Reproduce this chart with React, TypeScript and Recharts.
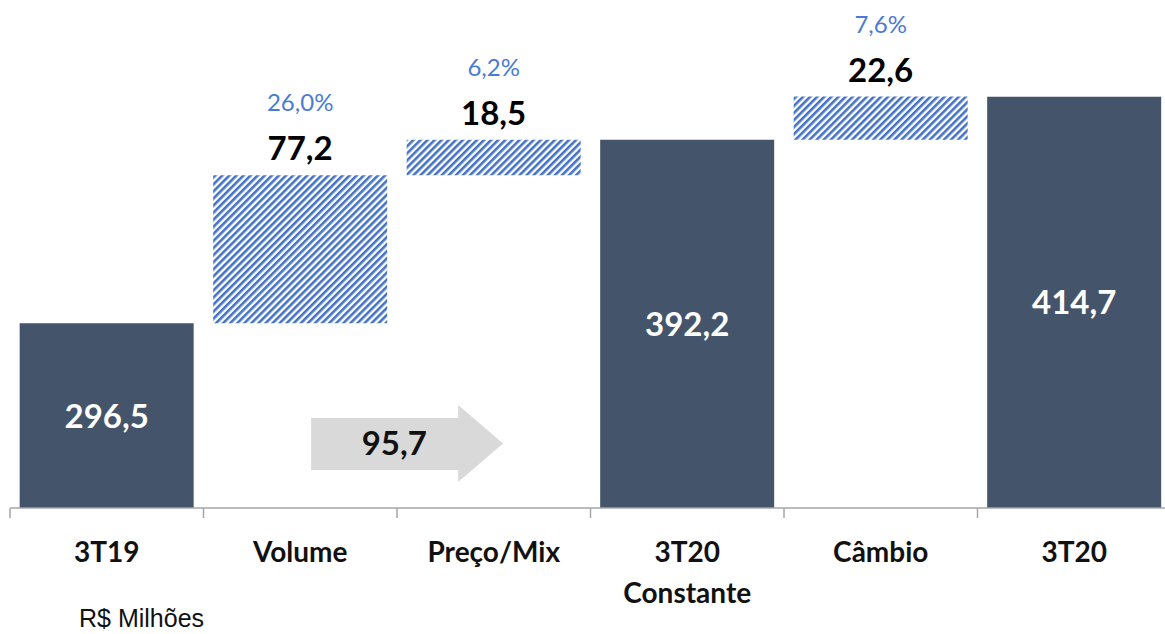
import { BarChart, Bar, XAxis, YAxis, Cell, LabelList, ReferenceArea } from "recharts";

// waterfall: 3T19 -> 3T20 (R$ Milhões)
const categories = ["3T19", "Volume", "Preço/Mix", "3T20 Constante", "Câmbio", "3T20"];
const tickLines = [["3T19"], ["Volume"], ["Preço/Mix"], ["3T20", "Constante"], ["Câmbio"], ["3T20"]];
const values = [296.5, 77.2, 18.5, 392.2, 22.6, 414.7];
const isTotal = [true, false, false, true, false, true];
const shares = [null, 26.0, 6.2, null, 7.6, null];
const arrowValue = 95.7;
const arrowBand = [213.6, 253.8];
const yDomain = [200, 460];

const DARK = "#44546A";
const HATCH = "#4472C4";
const PCT = "#4A7BD4";
const AXIS = "#A6A6A6";
const ARROW = "#D9D9D9";
const FONT = "Lato, 'Open Sans', sans-serif";

const W = 1175;
const H = 634;
const M = { top: 10, right: 4, left: 10, bottom: 66 };
const BAND = (W - M.left - M.right) / categories.length;

const fmt = (v: number) => v.toFixed(1).replace(".", ",");

let running = 0;
const data = categories.map((name, i) => {
  let range: number[];
  if (isTotal[i]) {
    range = [yDomain[0], values[i]];
    running = values[i];
  } else {
    range = [running, running + values[i]];
    running += values[i];
  }
  return { name, range };
});

function CategoryTick(props: any) {
  const { x, y, payload } = props;
  const i = categories.indexOf(payload.value);
  const lines = tickLines[i] || [payload.value];
  const left = x - BAND / 2;
  return (
    <g>
      <line x1={left} y1={y} x2={left} y2={y + 10} stroke={AXIS} strokeWidth={1.5} />
      {i === categories.length - 1 && (
        <line x1={x + BAND / 2} y1={y} x2={x + BAND / 2} y2={y + 10} stroke={AXIS} strokeWidth={1.5} />
      )}
      {lines.map((l, k) => (
        <text
          key={k}
          x={x}
          y={y + 54 + k * 41}
          textAnchor="middle"
          fontFamily={FONT}
          fontWeight={700}
          fontSize={28}
          fill="#111"
        >
          {l}
        </text>
      ))}
    </g>
  );
}

function BarLabel(props: any) {
  const vb = props.viewBox || props;
  const { x, y, width, height } = vb;
  const i = props.index;
  if (i == null) return null;
  const cx = x + width / 2;
  if (isTotal[i]) {
    return (
      <text
        x={cx}
        y={y + height / 2 + 12}
        textAnchor="middle"
        fontFamily={FONT}
        fontWeight={700}
        fontSize={33}
        fill="#fff"
      >
        {fmt(values[i])}
      </text>
    );
  }
  return (
    <g>
      <text x={cx} y={y - 15} textAnchor="middle" fontFamily={FONT} fontWeight={700} fontSize={33} fill="#000">
        {fmt(values[i])}
      </text>
      <text x={cx} y={y - 64} textAnchor="middle" fontFamily={FONT} fontSize={24} fill={PCT}>
        {fmt(shares[i] as number) + "%"}
      </text>
    </g>
  );
}

function ArrowShape(props: any) {
  const { x, y, width, height } = props;
  if (x == null) return null;
  const x0 = x + width * 0.278;
  const xh = x + width * 0.658;
  const xt = x + width * 0.774;
  const bt = y + height * 0.169;
  const bb = y + height * (1 - 0.156);
  const my = y + height / 2;
  const pts = [
    [x0, bt], [xh, bt], [xh, y], [xt, my], [xh, y + height], [xh, bb], [x0, bb],
  ].map((p) => p.join(",")).join(" ");
  return (
    <g>
      <polygon points={pts} fill={ARROW} />
      <text
        x={x + width * 0.493}
        y={my + 12}
        textAnchor="middle"
        fontFamily={FONT}
        fontWeight={700}
        fontSize={33}
        fill="#111"
      >
        {fmt(arrowValue)}
      </text>
    </g>
  );
}

export default function App() {
  return (
    <div style={{ position: "absolute", left: 0, top: 0, width: 1165, height: 634, overflow: "hidden", background: "#fff" }}>
      <BarChart width={W} height={H} data={data} margin={M} barCategoryGap="5%">
        <defs>
          <pattern id="hatch" width="5" height="5" patternUnits="userSpaceOnUse" patternTransform="rotate(45)">
            <rect x="0" y="0" width="5" height="5" fill="#fff" />
            <rect x="0" y="0" width="2.6" height="5" fill={HATCH} />
          </pattern>
        </defs>
        <XAxis
          dataKey="name"
          interval={0}
          height={60}
          tickSize={0}
          tickMargin={0}
          tickLine={false}
          axisLine={{ stroke: AXIS, strokeWidth: 1.5 }}
          tick={<CategoryTick />}
        />
        <YAxis hide domain={yDomain} allowDataOverflow />
        <ReferenceArea
          x1="Volume"
          x2="Preço/Mix"
          y1={arrowBand[0]}
          y2={arrowBand[1]}
          shape={(p: any) => <ArrowShape {...p} />}
        />
        <Bar dataKey="range" isAnimationActive={false}>
          {data.map((d, i) => (
            <Cell key={d.name} fill={isTotal[i] ? DARK : "url(#hatch)"} />
          ))}
          <LabelList dataKey="range" content={(p: any) => <BarLabel {...p} />} />
        </Bar>
      </BarChart>
      <div
        style={{
          position: "absolute",
          left: 79,
          top: 606,
          fontFamily: "'Liberation Sans', Arial, sans-serif",
          fontSize: 25,
          lineHeight: "25px",
          color: "#111",
        }}
      >
        R$ Milhões
      </div>
    </div>
  );
}
